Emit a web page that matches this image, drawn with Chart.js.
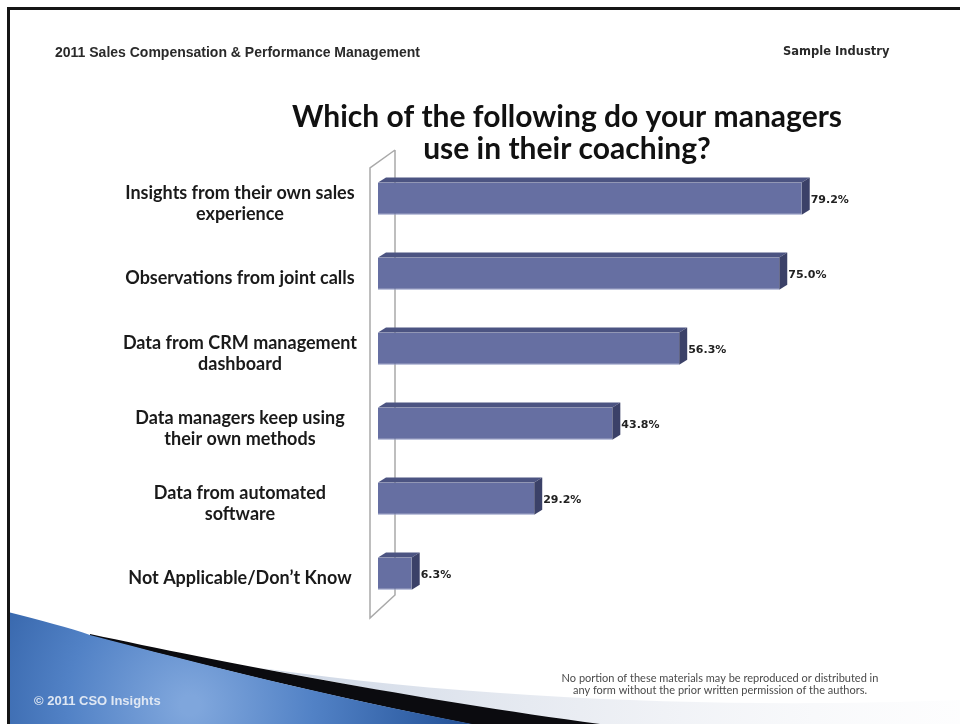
<!DOCTYPE html>
<html>
<head>
<meta charset="utf-8">
<script src="https://cdn.jsdelivr.net/npm/chart.js@4.4.0/dist/chart.umd.min.js"></script>
<style>
  html, body { margin: 0; padding: 0; background: #fff; }
  canvas { display: block; }
</style>
</head>
<body>
<canvas id="c" width="960" height="724"></canvas>
<script>
// Survey answers (multi-line labels are arrays)
const categories = [
  ["Insights from their own sales", "experience"],
  "Observations from joint calls",
  ["Data from CRM management", "dashboard"],
  ["Data managers keep using", "their own methods"],
  ["Data from automated", "software"],
  "Not Applicable/Don’t Know"
];
// Share of respondents, percent
const shares = [79.2, 75.0, 56.3, 43.8, 29.2, 6.3];

const titleLines = ["Which of the following do your managers", "use in their coaching?"];
const headerLeft = "2011 Sales Compensation & Performance Management";
const headerRight = "Sample Industry";
const footerLines = [
  "No portion of these materials may be reproduced or distributed in",
  "any form without the prior written permission of the authors."
];
const copyright = "© 2011 CSO Insights";

const FRONT = "#666fa2";
const TOP = "#4c5482";
const SIDE = "#3b4168";
const DEPTH_X = 8, DEPTH_Y = -5;

// Slide background: frame, bottom swoosh, header, title, footer
const slidePlugin = {
  id: "slide",
  beforeDraw(chart) {
    const ctx = chart.ctx;
    ctx.save();
    ctx.fillStyle = "#ffffff";
    ctx.fillRect(0, 0, chart.width, chart.height);

    // faint light swoosh to the right
    let g = ctx.createLinearGradient(300, 0, 960, 0);
    g.addColorStop(0, "rgba(200,210,226,0.85)");
    g.addColorStop(0.5, "rgba(226,230,238,0.6)");
    g.addColorStop(1, "rgba(245,246,249,0.2)");
    ctx.beginPath();
    ctx.moveTo(260, 668);
    ctx.bezierCurveTo(500, 702, 750, 708, 960, 700);
    ctx.lineTo(960, 724);
    ctx.lineTo(560, 724);
    ctx.closePath();
    ctx.fillStyle = g;
    ctx.fill();

    // black wedge
    ctx.beginPath();
    ctx.moveTo(90, 634);
    ctx.bezierCurveTo(220, 662, 420, 700, 600, 724);
    ctx.lineTo(470, 724);
    ctx.bezierCurveTo(330, 697, 200, 664, 90, 636);
    ctx.closePath();
    ctx.fillStyle = "#0b0b0f";
    ctx.fill();

    // blue field
    g = ctx.createRadialGradient(190, 705, 10, 190, 705, 330);
    g.addColorStop(0, "#7fa6dc");
    g.addColorStop(0.35, "#5282c6");
    g.addColorStop(0.75, "#2b5aa0");
    g.addColorStop(1, "#183d7a");
    ctx.beginPath();
    ctx.moveTo(8, 612);
    ctx.bezierCurveTo(40, 620, 70, 628, 90, 635);
    ctx.bezierCurveTo(200, 664, 330, 697, 472, 724);
    ctx.lineTo(8, 724);
    ctx.closePath();
    ctx.fillStyle = g;
    ctx.fill();

    // frame
    ctx.strokeStyle = "#151515";
    ctx.lineWidth = 3;
    ctx.beginPath();
    ctx.moveTo(8.5, 724);
    ctx.lineTo(8.5, 8.5);
    ctx.lineTo(960, 8.5);
    ctx.stroke();

    // header
    ctx.fillStyle = "#2a2a2a";
    ctx.textBaseline = "alphabetic";
    ctx.textAlign = "left";
    ctx.font = "bold 14px 'Liberation Sans', Arial, sans-serif";
    ctx.fillText(headerLeft, 55, 57);
    ctx.font = "bold 11.5px 'DejaVu Sans', Verdana, sans-serif";
    ctx.fillText(headerRight, 783, 55);

    // title
    ctx.fillStyle = "#111111";
    ctx.textAlign = "center";
    ctx.textBaseline = "middle";
    ctx.font = "bold 30px Lato, 'Open Sans', sans-serif";
    ctx.fillText(titleLines[0], 567, 117);
    ctx.fillText(titleLines[1], 567, 149);

    // footer
    ctx.fillStyle = "#4a4a4a";
    ctx.font = "11px Lato, sans-serif";
    ctx.fillText(footerLines[0], 720, 678);
    ctx.fillText(footerLines[1], 720, 690);

    // copyright
    ctx.textAlign = "left";
    ctx.fillStyle = "#dfe7f3";
    ctx.font = "bold 13px 'Liberation Sans', Arial, sans-serif";
    ctx.fillText(copyright, 34, 701);
    ctx.restore();
  }
};

// Back wall outline behind the bars
const wallPlugin = {
  id: "wall",
  beforeDatasetsDraw(chart) {
    const { ctx, chartArea: a } = chart;
    const fx = a.left - 8, bx = a.left + 17;
    ctx.save();
    ctx.strokeStyle = "#a9a9a9";
    ctx.lineWidth = 1.5;
    ctx.beginPath();
    ctx.moveTo(bx, a.top - 11);
    ctx.lineTo(bx, a.bottom - 16);
    ctx.lineTo(fx, a.bottom + 7);
    ctx.lineTo(fx, a.top + 7);
    ctx.lineTo(bx, a.top - 11);
    ctx.stroke();
    ctx.restore();
  }
};

// Top and side faces of each bar plus its value label
const bar3dPlugin = {
  id: "bar3d",
  afterDatasetsDraw(chart) {
    const ctx = chart.ctx;
    const meta = chart.getDatasetMeta(0);
    ctx.save();
    meta.data.forEach((bar, i) => {
      const { x, y, base, height } = bar.getProps(["x", "y", "base", "height"], true);
      const t = y - height / 2, b = y + height / 2;
      // top face
      ctx.beginPath();
      ctx.moveTo(base, t);
      ctx.lineTo(base + DEPTH_X, t + DEPTH_Y);
      ctx.lineTo(x + DEPTH_X, t + DEPTH_Y);
      ctx.lineTo(x, t);
      ctx.closePath();
      ctx.fillStyle = TOP;
      ctx.fill();
      // side face
      ctx.beginPath();
      ctx.moveTo(x, t);
      ctx.lineTo(x + DEPTH_X, t + DEPTH_Y);
      ctx.lineTo(x + DEPTH_X, b + DEPTH_Y);
      ctx.lineTo(x, b);
      ctx.closePath();
      ctx.fillStyle = SIDE;
      ctx.fill();
      // value label
      ctx.fillStyle = "#222222";
      ctx.font = "bold 11px 'DejaVu Sans', Verdana, sans-serif";
      ctx.textAlign = "left";
      ctx.textBaseline = "middle";
      ctx.fillText(shares[i].toFixed(1) + "%", x + DEPTH_X + 1, y + 2);
    });
    ctx.restore();
  }
};

new Chart(document.getElementById("c"), {
  type: "bar",
  data: {
    labels: categories,
    datasets: [{
      data: shares,
      backgroundColor: FRONT,
      borderColor: "#8d95c2",
      borderWidth: { bottom: 1, left: 0, right: 0, top: 0 },
      borderSkipped: false,
      barPercentage: 0.43,
      categoryPercentage: 1.0
    }]
  },
  options: {
    indexAxis: "y",
    responsive: false,
    animation: false,
    events: [],
    layout: { padding: { left: 40, right: 47, top: 161, bottom: 113 } },
    plugins: {
      legend: { display: false },
      title: { display: false },
      tooltip: { enabled: false }
    },
    scales: {
      x: { min: 0, max: 100, display: false },
      y: {
        grid: { display: false, drawTicks: false },
        border: { display: false },
        afterFit(scale) { scale.width = 338; },
        ticks: {
          crossAlign: "center",
          padding: 21,
          labelOffset: 5,
          color: "#1a1a1a",
          font: { family: "Lato, 'Open Sans', sans-serif", size: 18, weight: "bold", lineHeight: 1.15 }
        }
      }
    }
  },
  plugins: [slidePlugin, wallPlugin, bar3dPlugin]
});
</script>
</body>
</html>
